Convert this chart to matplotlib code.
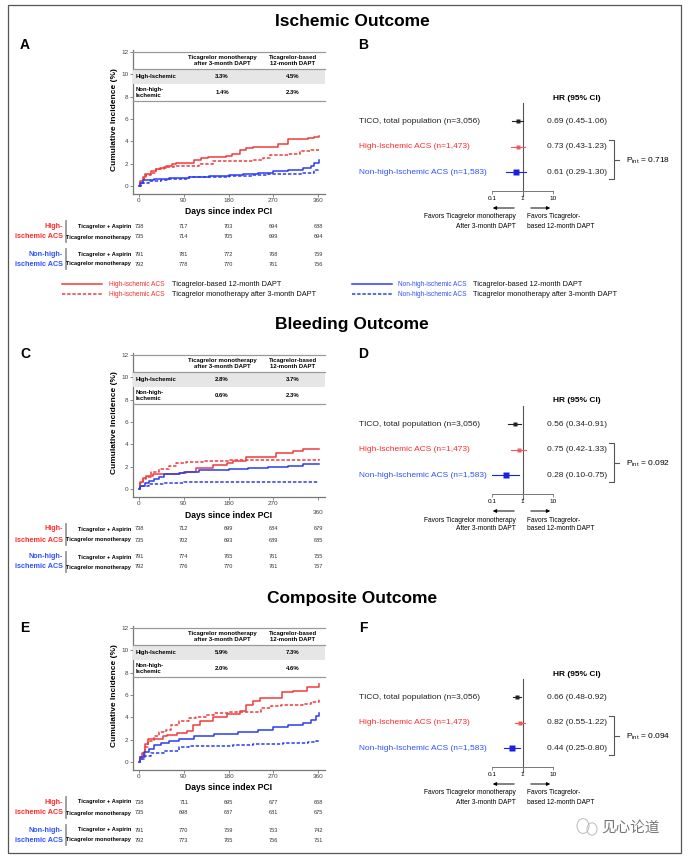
import matplotlib
matplotlib.use('Agg')
import matplotlib.pyplot as plt
from matplotlib.lines import Line2D
from matplotlib.patches import Rectangle, FancyArrowPatch, Circle
from matplotlib.transforms import blended_transform_factory as btf

plt.rcParams['font.family'] = ['Liberation Sans', 'DejaVu Sans']

# ---------------- data ----------------
titles = ['Ischemic Outcome', 'Bleeding Outcome', 'Composite Outcome']
letters_left = ['A', 'C', 'E']
letters_right = ['B', 'D', 'F']
day_ticks = [0, 90, 180, 270, 360]
inc_ticks = [0, 2, 4, 6, 8, 10, 12]

# Panel A (ischemic) step curves
A_hi_dapt_t = [0, 3, 8, 12, 25, 35, 42, 55, 66, 75, 110, 125, 138, 175, 188, 203, 215, 230, 270, 280, 300, 340, 352, 362]
A_hi_dapt_v = [0, 0.4, 0.8, 1.1, 1.3, 1.5, 1.6, 1.8, 2.0, 2.1, 2.3, 2.5, 2.6, 2.7, 2.9, 3.2, 3.4, 3.5, 3.5, 3.8, 4.2, 4.3, 4.4, 4.5]
A_hi_mono_t = [0, 4, 10, 15, 25, 35, 50, 70, 120, 148, 200, 230, 250, 264, 300, 324, 345, 362]
A_hi_mono_v = [0, 0.3, 0.7, 1.0, 1.2, 1.5, 1.7, 1.8, 2.0, 2.2, 2.2, 2.3, 2.5, 2.8, 2.9, 3.1, 3.2, 3.2]
A_lo_dapt_t = [0, 3, 8, 30, 60, 100, 140, 180, 210, 240, 270, 300, 330, 345, 352, 362]
A_lo_dapt_v = [0, 0.3, 0.5, 0.6, 0.7, 0.8, 0.9, 1.0, 1.1, 1.2, 1.3, 1.4, 1.6, 1.8, 2.1, 2.3]
A_lo_mono_t = [0, 4, 20, 45, 60, 100, 180, 230, 260, 330, 352, 362]
A_lo_mono_v = [0, 0.3, 0.4, 0.5, 0.6, 0.8, 0.9, 1.0, 1.1, 1.2, 1.4, 1.4]

# Panel C (bleeding)
C_hi_dapt_t = [0, 3, 8, 14, 28, 82, 95, 115, 149, 176, 190, 216, 276, 310, 330, 362]
C_hi_dapt_v = [0, 0.6, 1.0, 1.2, 1.3, 1.4, 1.55, 1.9, 2.15, 2.3, 2.5, 2.9, 3.2, 3.4, 3.6, 3.6]
C_hi_mono_t = [0, 3, 8, 14, 25, 40, 60, 75, 95, 130, 180, 362]
C_hi_mono_v = [0, 0.5, 0.9, 1.1, 1.5, 1.8, 2.1, 2.3, 2.4, 2.5, 2.6, 2.65]
C_lo_dapt_t = [0, 3, 12, 20, 30, 40, 50, 80, 90, 120, 180, 220, 260, 300, 330, 362]
C_lo_dapt_v = [0, 0.3, 0.5, 0.7, 0.9, 1.1, 1.3, 1.4, 1.5, 1.7, 1.8, 1.9, 2.0, 2.1, 2.2, 2.25]
C_lo_mono_t = [0, 3, 20, 50, 90, 362]
C_lo_mono_v = [0, 0.3, 0.4, 0.5, 0.6, 0.65]

# Panel E (composite)
E_hi_dapt_t = [0, 3, 6, 12, 19, 49, 56, 76, 96, 109, 123, 149, 176, 203, 216, 230, 243, 280, 287, 310, 337, 362]
E_hi_dapt_v = [0, 0.4, 0.8, 1.6, 2.1, 2.3, 2.4, 2.6, 2.8, 3.3, 3.7, 4.0, 4.3, 4.6, 5.1, 5.5, 5.7, 5.7, 6.3, 6.4, 6.7, 7.0]
E_hi_mono_t = [0, 3, 6, 12, 19, 30, 40, 55, 65, 80, 100, 115, 135, 150, 180, 230, 245, 265, 285, 330, 345, 362]
E_hi_mono_v = [0, 0.3, 0.6, 1.3, 1.9, 2.3, 2.7, 2.9, 3.3, 3.7, 3.9, 4.0, 4.2, 4.4, 4.5, 4.5, 4.8, 5.0, 5.1, 5.2, 5.4, 5.6]
E_lo_dapt_t = [0, 3, 10, 20, 30, 45, 60, 80, 110, 150, 200, 240, 270, 300, 330, 345, 355, 362]
E_lo_dapt_v = [0, 0.4, 0.9, 1.2, 1.5, 1.7, 1.9, 2.1, 2.3, 2.5, 2.7, 2.9, 3.1, 3.3, 3.5, 3.8, 4.1, 4.4]
E_lo_mono_t = [0, 3, 12, 25, 50, 80, 100, 190, 230, 290, 340, 355, 362]
E_lo_mono_v = [0, 0.3, 0.5, 0.8, 1.0, 1.3, 1.4, 1.5, 1.6, 1.7, 1.8, 1.9, 2.0]

# in-plot table values: [mono, dapt] per row
tab_header = ['Ticagrelor monotherapy\nafter 3-month DAPT', 'Ticagrelor-based\n12-month DAPT']
tab_rows = ['High-Ischemic', 'Non-high-\nIschemic']
A_tab = [['3.3%', '4.5%'], ['1.4%', '2.3%']]
C_tab = [['2.8%', '3.7%'], ['0.6%', '2.3%']]
E_tab = [['5.9%', '7.3%'], ['2.0%', '4.6%']]

# numbers at risk
risk_rows = ['Ticagrelor + Aspirin', 'Ticagrelor monotherapy']
A_risk = [[738, 717, 703, 694, 688], [735, 714, 705, 699, 694],
          [791, 781, 772, 768, 759], [792, 778, 770, 761, 756]]
C_risk = [[738, 712, 699, 684, 679], [735, 702, 693, 689, 685],
          [791, 774, 765, 761, 755], [792, 776, 770, 761, 757]]
E_risk = [[738, 711, 695, 677, 668], [735, 698, 687, 681, 675],
          [791, 770, 759, 753, 742], [792, 773, 765, 756, 751]]

# forest plots
forest_labels = ['TICO, total population (n=3,056)', 'High-Ischemic ACS (n=1,473)',
                 'Non-high-Ischemic ACS (n=1,583)']
B_hr = [0.69, 0.73, 0.61]; B_lo = [0.45, 0.43, 0.29]; B_hi = [1.06, 1.23, 1.30]; B_p = '0.718'
D_hr = [0.56, 0.75, 0.28]; D_lo = [0.34, 0.42, 0.10]; D_hi = [0.91, 1.33, 0.75]; D_p = '0.092'
F_hr = [0.66, 0.82, 0.44]; F_lo = [0.48, 0.55, 0.25]; F_hi = [0.92, 1.22, 0.80]; F_p = '0.094'
forest_ticks = [0.1, 1, 10]
forest_ticklabels = ['0.1', '1', '10']

# ---------------- style ----------------
RED = '#f03a3c'
BLUE = '#2a3cf0'
RED_T = '#ff2b2b'
BLUE_T = '#3050ff'
RED_F = '#f25a5a'
DASH = (0, (2.2, 1.2))

W, H = 692, 858
fig = plt.figure(figsize=(W / 100, H / 100), dpi=100)


def fx(x):
    return x / W


def fy(y):
    return 1 - y / H


def ftext(x, y, s, **kw):
    kw.setdefault('va', 'center')
    fig.text(fx(x), fy(y), s, **kw)


def fline(xs, ys, **kw):
    fig.add_artist(Line2D([fx(x) for x in xs], [fy(y) for y in ys],
                          transform=fig.transFigure, **kw))


# frame
fig.add_artist(Rectangle((fx(8), fy(853)), (681 - 8) / W, (853 - 5) / H, transform=fig.transFigure,
                         fill=False, edgecolor='#555555', lw=0.9))


def km_panel(dy, curves, tab, risk, lower360=False):
    ax = fig.add_axes([fx(133), fy(194 + dy), (325 - 133) / W, (194 - 49.8) / H])
    for t, v, c, ls in curves:
        ax.step(t, v, where='post', color=c, lw=1.1, ls=ls)
    ax.set_xlim(-12, 374)
    ax.set_ylim(-0.72, 12.2)
    ax.set_xticks(day_ticks)
    ax.set_yticks(inc_ticks)
    for s in ['top', 'right']:
        ax.spines[s].set_visible(False)
    for s in ['left', 'bottom']:
        ax.spines[s].set_color('#777777')
        ax.spines[s].set_linewidth(0.9)
    ax.tick_params(length=2, width=0.6, color='#777777', labelsize=4.6, labelcolor='#444444', pad=1.2)
    if lower360:
        ax.xaxis.get_major_ticks()[-1].set_pad(7)
    ftext(229, 212 + dy, 'Days since index PCI', ha='center', fontsize=6.2, fontweight='bold')
    ftext(115, 120 + dy, 'Cumulative Incidence (%)', ha='center', rotation=90, fontsize=6, fontweight='bold')
    # in-plot table
    fig.add_artist(Rectangle((fx(133), fy(84 + dy)), (325 - 133) / W, 15 / H, transform=fig.transFigure,
                             facecolor='#e6e6e6', edgecolor='none', zorder=1))
    for yy in [52, 69, 101]:
        fline([133, 325], [yy + dy, yy + dy], color='#9a9a9a', lw=0.9, zorder=2)
    for cx, hd in zip([222, 293], tab_header):
        ftext(cx, 60.5 + dy, hd, ha='center', fontsize=4.3, fontweight='bold', linespacing=1.1)
    for ry, lab, vals in zip([76.5, 92.5], tab_rows, tab):
        ftext(136, ry + dy, lab, ha='left', fontsize=4.3, fontweight='bold', linespacing=1.1)
        for cx, v in zip([222, 293], vals):
            ftext(cx, ry + dy, v, ha='center', fontsize=4.3, fontweight='bold')
    # numbers at risk
    tr = btf(ax.transData, fig.transFigure)
    rows_y = [226, 237, 254, 264]
    for i, (ry, vals) in enumerate(zip(rows_y, risk)):
        ftext(131, ry + dy, risk_rows[i % 2], ha='right', fontsize=4.1, fontweight='bold')
        for d, v in zip(day_ticks, vals):
            ax.text(d, fy(ry + dy), str(v), transform=tr, ha='center', va='center',
                    fontsize=4.1, color='#333333')
    for (y1, y2), lab, col in zip([(226, 237), (254, 264)], ['High-', 'Non-high-'], [RED_T, BLUE_T]):
        ftext(63, y1 + dy, lab, ha='right', fontsize=5.2, fontweight='bold', color=col)
        ftext(63, y2 + dy, 'ischemic ACS', ha='right', fontsize=5.2, fontweight='bold', color=col)
        fline([65.5, 65.5], [y1 - 5 + dy, y2 + 5 + dy], color='#999999', lw=1.3)
    return ax


def forest_panel(dy, hr, lo, hi, p):
    ax = fig.add_axes([fx(492), fy(191 + dy), 61 / W, 88 / H])
    ax.set_xscale('log')
    ax.set_xlim(0.1, 10)
    ax.set_ylim(2.745, -0.706)
    cols = ['#222222', RED_F, '#1a22e0']
    msz = [3.0, 3.4, 3.8]
    for i in range(3):
        ax.plot([lo[i], hi[i]], [i, i], color=cols[i], lw=0.8)
        ax.plot([hr[i]], [i], marker='s', ms=msz[i], color=cols[i], mec='none')
    ax.axvline(1, ymin=-0.06, ymax=1, color='#555555', lw=0.8, clip_on=False, zorder=0)
    for s in ['top', 'right', 'left']:
        ax.spines[s].set_visible(False)
    ax.spines['bottom'].set_color('#777777')
    ax.spines['bottom'].set_linewidth(0.7)
    ax.set_yticks([])
    ax.set_xticks(forest_ticks)
    ax.set_xticklabels(forest_ticklabels)
    ax.minorticks_off()
    ax.tick_params(axis='x', length=2, width=0.6, color='#777777', labelsize=4.6, pad=1.5)
    tr = btf(fig.transFigure, ax.transData)
    lab_cols = ['#222222', RED_T, BLUE_T]
    for i in range(3):
        ax.text(fx(359), i, forest_labels[i], transform=tr, ha='left', va='center',
                fontsize=6, color=lab_cols[i])
        ax.text(fx(547), i, '%.2f (%.2f-%.2f)' % (hr[i], lo[i], hi[i]), transform=tr,
                ha='left', va='center', fontsize=6, color='#222222')
    ftext(577, 98 + dy, 'HR (95% CI)', ha='center', fontsize=6, fontweight='bold')
    # bracket
    fline([609, 614, 614, 609], [140 + dy, 140 + dy, 179 + dy, 179 + dy], color='#555555', lw=0.8)
    fline([614, 619], [160 + dy, 160 + dy], color='#555555', lw=0.8)
    ftext(626, 160.5 + dy, r'P$_{\mathregular{int}}$ = ' + p, ha='left', fontsize=6)
    # arrows
    for xa, xb in [(517, 490), (528, 553)]:
        fig.add_artist(FancyArrowPatch((fx(xa), fy(208 + dy)), (fx(xb), fy(208 + dy)),
                                       transform=fig.transFigure, arrowstyle='-|>',
                                       mutation_scale=5, lw=0.7, color='black'))
    ftext(516, 217 + dy, 'Favors Ticagrelor monotherapy', ha='right', fontsize=4.8)
    ftext(516, 226 + dy, 'After 3-month DAPT', ha='right', fontsize=4.8)
    ftext(527, 217 + dy, 'Favors Ticagrelor-', ha='left', fontsize=4.8)
    ftext(527, 226 + dy, 'based 12-month DAPT', ha='left', fontsize=4.8)
    return ax


curvesA = [(A_hi_dapt_t, A_hi_dapt_v, RED, '-'), (A_hi_mono_t, A_hi_mono_v, RED, DASH),
           (A_lo_dapt_t, A_lo_dapt_v, BLUE, '-'), (A_lo_mono_t, A_lo_mono_v, BLUE, DASH)]
curvesC = [(C_hi_dapt_t, C_hi_dapt_v, RED, '-'), (C_hi_mono_t, C_hi_mono_v, RED, DASH),
           (C_lo_dapt_t, C_lo_dapt_v, BLUE, '-'), (C_lo_mono_t, C_lo_mono_v, BLUE, DASH)]
curvesE = [(E_hi_dapt_t, E_hi_dapt_v, RED, '-'), (E_hi_mono_t, E_hi_mono_v, RED, DASH),
           (E_lo_dapt_t, E_lo_dapt_v, BLUE, '-'), (E_lo_mono_t, E_lo_mono_v, BLUE, DASH)]

offsets = [0, 303, 576]
title_y = [21, 324, 598]
letter_y = [45, 354, 628]

km_panel(offsets[0], curvesA, A_tab, A_risk)
km_panel(offsets[1], curvesC, C_tab, C_risk, lower360=True)
km_panel(offsets[2], curvesE, E_tab, E_risk)
forest_panel(offsets[0], B_hr, B_lo, B_hi, B_p)
forest_panel(offsets[1], D_hr, D_lo, D_hi, D_p)
forest_panel(offsets[2], F_hr, F_lo, F_hi, F_p)

for t, ty, ll, lr, ly in zip(titles, title_y, letters_left, letters_right, letter_y):
    ftext(352, ty, t, ha='center', fontsize=12.5, fontweight='bold')
    ftext(25, ly, ll, ha='center', fontsize=10, fontweight='bold')
    ftext(363, ly, lr, ha='center', fontsize=10, fontweight='bold')

# legend under panel A
leg_items = [
    (62, 284, RED, '-', 'High-ischemic ACS', RED_T, 109, 172, 'Ticagrelor-based 12-month DAPT'),
    (62, 294, RED, DASH, 'High-ischemic ACS', RED_T, 109, 172, 'Ticagrelor monotherapy after 3-month DAPT'),
    (352, 284, BLUE, '-', 'Non-high-ischemic ACS', BLUE_T, 398, 473, 'Ticagrelor-based 12-month DAPT'),
    (352, 294, BLUE, DASH, 'Non-high-ischemic ACS', BLUE_T, 398, 473, 'Ticagrelor monotherapy after 3-month DAPT'),
]
for x0, y0, c, ls, lab, tc, xt1, xt2, desc in leg_items:
    fline([x0, x0 + 40], [y0, y0], color=c, lw=1.1, ls=ls)
    ftext(xt1, y0, lab, ha='left', fontsize=4.7, color=tc)
    ftext(xt2, y0, desc, ha='left', fontsize=5.3, color='#111111')

# watermark
for cx, cy, r in [(583, 826, 6), (592, 829, 5)]:
    fig.add_artist(Circle((fx(cx), fy(cy)), r / W, transform=fig.transFigure, fill=False,
                          edgecolor='#bbbbbb', lw=0.7))
fig.text(fx(601), fy(828), '见心论道', ha='left', va='center', fontsize=10.5, color='#777777',
         family=['Noto Sans CJK SC', 'DejaVu Sans'])

fig.savefig('out.png', dpi=100)
